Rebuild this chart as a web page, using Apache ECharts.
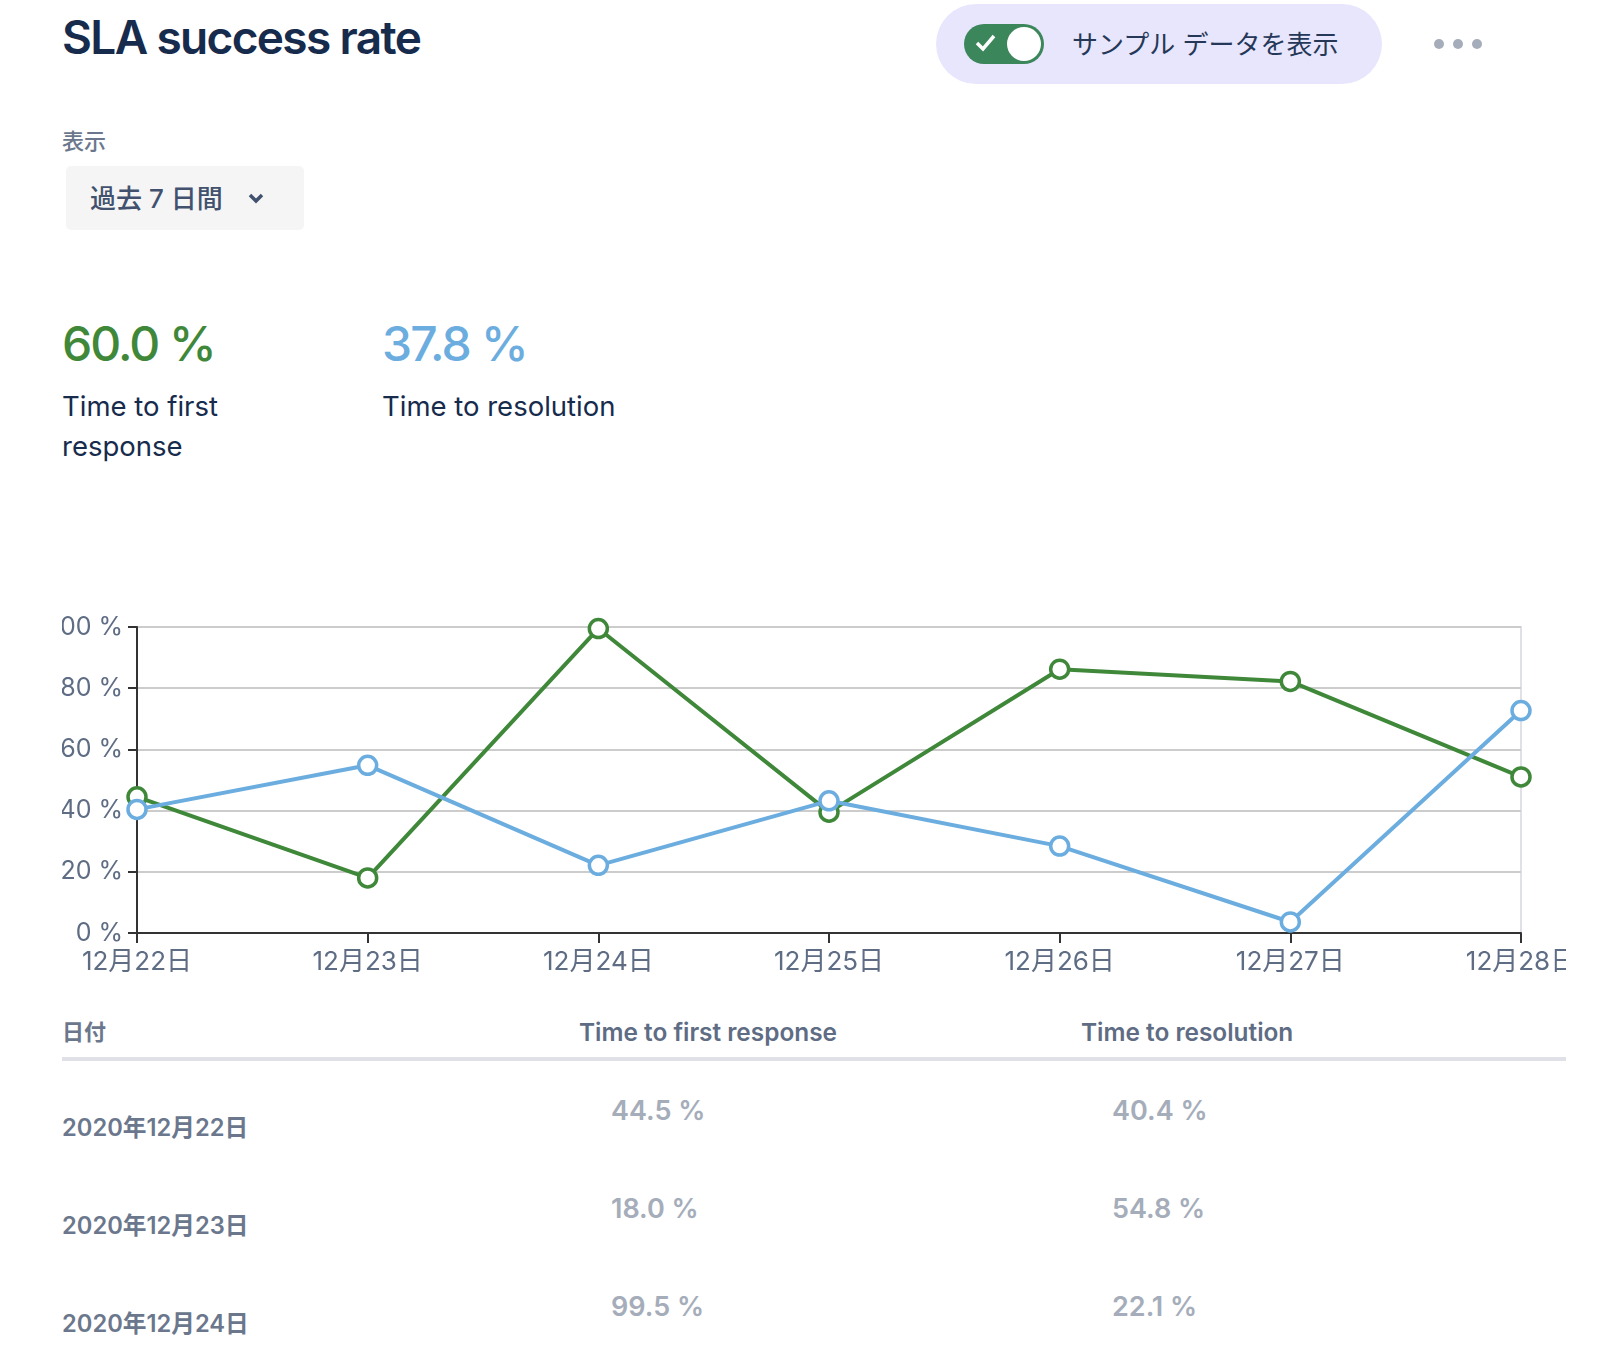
<!DOCTYPE html>
<html lang="ja">
<head>
    <meta charset="UTF-8">
    <title>SLA success rate</title>
    <style>
        html,body{
            margin: 0;
            height: 100%;
            background: #fff;
            overflow: hidden;
            font-family: Inter, "Noto Sans CJK JP", sans-serif;
        }
        .t{
            position: absolute;
            white-space: nowrap;
            line-height: 1;
        }
        .box{
            position: absolute;
        }
        #main{
            position: absolute;
            left: 62px;
            top: 600px;
            width: 1504px;
            height: 380px;
        }
    </style>
</head>
<body>
<script src="https://cdn.jsdelivr.net/npm/echarts@6/dist/echarts.min.js"></script>

<div class="t" style="left:62px;top:14px;font-size:46px;font-weight:600;color:#172b4d;letter-spacing:-1.65px">SLA success rate</div>

<div class="box" style="left:936px;top:4px;width:446px;height:80px;border-radius:40px;background:#e8e6fc"></div>
<div class="box" style="left:964px;top:24px;width:80px;height:40px;border-radius:20px;background:#3c865c"></div>
<div class="box" style="left:1007px;top:27px;width:34px;height:34px;border-radius:17px;background:#fff"></div>
<svg class="box" style="left:974px;top:30px" width="26" height="24"><path d="M3 13 L9 19 L20 6" fill="none" stroke="#fff" stroke-width="3.5"/></svg>
<div class="t" style="left:1072px;top:32px;font-size:26px;color:#253858">サンプル データを表示</div>
<div class="box" style="left:1434px;top:39px;width:10px;height:10px;border-radius:5px;background:#a5adba"></div>
<div class="box" style="left:1453px;top:39px;width:10px;height:10px;border-radius:5px;background:#a5adba"></div>
<div class="box" style="left:1472px;top:39px;width:10px;height:10px;border-radius:5px;background:#a5adba"></div>

<div class="t" style="left:62px;top:130px;font-size:22px;font-weight:500;color:#6b778c">表示</div>
<div class="box" style="left:66px;top:166px;width:238px;height:64px;border-radius:5px;background:#f5f5f5"></div>
<div class="t" style="left:90px;top:186px;font-size:26px;font-weight:500;color:#42526e">過去 7 日間</div>
<svg class="box" style="left:246px;top:191px" width="20" height="16"><path d="M4 4 L10 10 L16 4" fill="none" stroke="#42526e" stroke-width="3.5"/></svg>

<div id="stats"></div>
<div id="main"></div>
<div id="table"></div>

<script>
    var dates = ['12月22日', '12月23日', '12月24日', '12月25日', '12月26日', '12月27日', '12月28日'];
    var firstResponse = [44.5, 18.0, 99.5, 39.5, 86.2, 82.2, 51.0];
    var resolution = [40.4, 54.8, 22.1, 43.2, 28.4, 3.6, 72.7];
    var tableDates = ['2020年12月22日', '2020年12月23日', '2020年12月24日'];
    var firstResponseLabels = ['44.5 %', '18.0 %', '99.5 %'];
    var resolutionLabels = ['40.4 %', '54.8 %', '22.1 %'];
    var tableHeaders = ['日付', 'Time to first response', 'Time to resolution'];

    var green = '#3f883a';
    var blue = '#6cade0';

    // ヘルパー: 絶対配置のテキストを追加
    function addText(parent, text, left, top, style) {
        var el = document.createElement('div');
        el.className = 't';
        el.textContent = text;
        el.style.cssText = 'left:' + left + 'px;top:' + top + 'px;' + style;
        parent.appendChild(el);
    }

    var stats = document.getElementById('stats');
    addText(stats, '60.0 %', 62, 320, 'font-size:48px;font-weight:500;letter-spacing:-2px;color:' + green);
    addText(stats, '37.8 %', 382, 320, 'font-size:48px;font-weight:500;letter-spacing:-1.8px;color:' + blue);
    var labelStyle = 'font-size:27.5px;color:#172b4d';
    addText(stats, 'Time to first', 62, 393, labelStyle);
    addText(stats, 'response', 62, 433, labelStyle);
    addText(stats, 'Time to resolution', 382, 393, labelStyle);

    var table = document.getElementById('table');
    var headStyle = 'font-size:24.4px;font-weight:600;color:#5e6c84';
    addText(table, tableHeaders[0], 62, 1021, 'font-size:22px;font-weight:600;color:#6b778c');
    addText(table, tableHeaders[1], 579, 1020, headStyle);
    addText(table, tableHeaders[2], 1081, 1020, headStyle);
    var rule = document.createElement('div');
    rule.className = 'box';
    rule.style.cssText = 'left:62px;top:1057px;width:1504px;height:4px;background:#dfe1e6';
    table.appendChild(rule);
    for (var i = 0; i < tableDates.length; i++) {
        addText(table, tableDates[i], 62, 1116 + i * 98, 'font-size:23.7px;font-weight:600;color:#6b778c');
        addText(table, firstResponseLabels[i], 611, 1097 + i * 98, 'font-size:27px;font-weight:600;color:#a5adba');
        addText(table, resolutionLabels[i], 1112, 1097 + i * 98, 'font-size:27px;font-weight:600;color:#a5adba');
    }

    var myChart = echarts.init(document.getElementById('main'));
    var fontFamily = 'Inter, "Noto Sans CJK JP", sans-serif';
    var axisStroke = {color: '#333', width: 2};

    function lineSeries(name, values, color) {
        return {
            name: name,
            type: 'line',
            data: values,
            symbol: 'circle',
            symbolSize: 18,
            showAllSymbol: true,
            clip: false,
            lineStyle: {color: color, width: 4},
            itemStyle: {color: '#fff', borderColor: color, borderWidth: 3.5}
        };
    }

    var option = {
        animation: false,
        grid: {
            show: true,
            left: 75,
            top: 27,
            width: 1384,
            height: 306,
            // v6 だとラベル分だけ内側にずれるので無効化
            outerBoundsMode: 'none',
            borderColor: '#dfe1e6',
            borderWidth: 2
        },
        xAxis: {
            type: 'category',
            data: dates,
            boundaryGap: false,
            axisLine: {lineStyle: axisStroke},
            axisTick: {length: 10, lineStyle: axisStroke},
            axisLabel: {margin: 16, interval: 0, hideOverlap: false, color: '#5e6c84', fontSize: 26, fontFamily: fontFamily},
            splitLine: {show: false}
        },
        yAxis: {
            type: 'value',
            min: 0,
            max: 100,
            interval: 20,
            axisLine: {show: true, lineStyle: axisStroke},
            axisTick: {show: true, length: 9, lineStyle: axisStroke},
            axisLabel: {margin: 14, formatter: '{value} %', color: '#5e6c84', fontSize: 25, fontFamily: fontFamily},
            splitLine: {lineStyle: {color: '#ccc', width: 2}}
        },
        series: [
            lineSeries('Time to first response', firstResponse, green),
            lineSeries('Time to resolution', resolution, blue)
        ]
    };
    myChart.setOption(option);
    window.addEventListener('resize', () => {
        myChart.resize()
    })
</script>
</body>
</html>
